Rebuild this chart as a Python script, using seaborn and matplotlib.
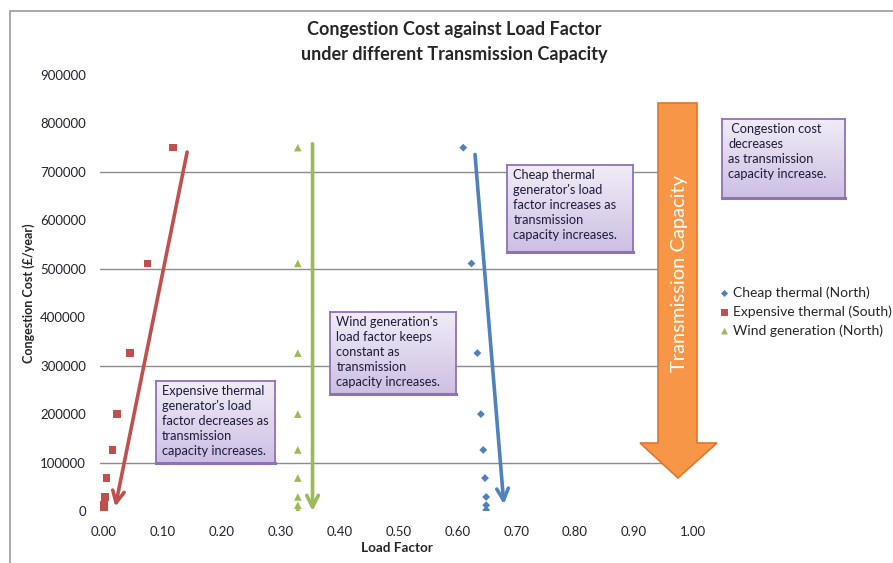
import numpy as np
import pandas as pd
import matplotlib.pyplot as plt
import seaborn as sns
from matplotlib.patches import Polygon, Rectangle
from matplotlib.colors import LinearSegmentedColormap

# Data
cost = [750000, 511000, 326000, 200000, 126000, 68000, 29000, 12000, 2000]
cheap_lf = [0.610, 0.624, 0.634, 0.640, 0.644, 0.647, 0.649, 0.649, 0.649]
expensive_lf = [0.117, 0.074, 0.044, 0.022, 0.014, 0.004, 0.001, 0.000, 0.000]
wind_lf = [0.329, 0.329, 0.329, 0.329, 0.329, 0.329, 0.329, 0.329, 0.329]

series = ['Cheap thermal (North)', 'Expensive thermal (South)', 'Wind generation (North)']
colors = ['#4F81BD', '#C0504D', '#9BBB59']
markers = ['D', 's', '^']
sizes = [16, 30, 30]

x_ticks = [0.0, 0.1, 0.2, 0.3, 0.4, 0.5, 0.6, 0.7, 0.8, 0.9, 1.0]
y_ticks = [0, 100000, 200000, 300000, 400000, 500000, 600000, 700000, 800000, 900000]
grid_vals = [100000, 300000, 500000, 700000]

df = pd.DataFrame({
    'Load Factor': cheap_lf + expensive_lf + wind_lf,
    'Congestion Cost': cost * 3,
    'Series': [s for s in series for _ in cost],
})

sns.set_theme(style='white')
plt.rcParams['font.family'] = ['Lato', 'DejaVu Sans']

W, H = 893, 563
fig = plt.figure(figsize=(W / 100, H / 100), dpi=100)


def fx(px):
    return px / W


def fy(py):
    return 1 - py / H


# chart area border
fig.patches.append(Rectangle((fx(10), fy(600)), fx(900) - fx(10), fy(11) - fy(600),
                             transform=fig.transFigure, fill=False, edgecolor='#9a9a9a', lw=1.2))

ax = fig.add_axes([fx(100), fy(511), fx(694) - fx(100), fy(75) - fy(511)])

for val in grid_vals:
    ax.axhline(val, color='#8c8c8c', lw=1, zorder=0)

for s, c, m, sz in zip(series, colors, markers, sizes):
    sub = df[df['Series'] == s]
    sns.scatterplot(data=sub, x='Load Factor', y='Congestion Cost', ax=ax, color=c,
                    marker=m, s=sz, edgecolor='none', label=s, zorder=3)

ax.set_xlim(-0.007, 1.002)
ax.set_ylim(0, 900000)
ax.set_xticks(x_ticks)
ax.set_xticklabels([f'{v:.2f}' for v in x_ticks])
ax.set_yticks(y_ticks)
ax.set_yticklabels([str(v) for v in y_ticks])
ax.tick_params(axis='both', labelsize=9.5, colors='#222233', length=0)
ax.tick_params(axis='x', pad=11)
ax.tick_params(axis='y', pad=10)
for sp in ax.spines.values():
    sp.set_visible(False)
ax.set_xlabel('Load Factor', fontsize=9.7, fontweight='bold', labelpad=3)
ax.set_ylabel('Congestion Cost (\u00a3/year)', fontsize=9, fontweight='bold', labelpad=4)

# trend arrows
arrow_specs = [
    ((0.141, 741000), (0.019, 9000), colors[1]),
    ((0.354, 758000), (0.354, 0), colors[2]),
    ((0.630, 736000), (0.679, 14000), colors[0]),
]
for start, end, c in arrow_specs:
    ax.annotate('', xy=end, xytext=start, annotation_clip=False,
                arrowprops=dict(arrowstyle='->,head_length=0.7,head_width=0.35',
                                color=c, lw=2.6, shrinkA=0, shrinkB=0), zorder=4)

fig.suptitle('Congestion Cost against Load Factor\nunder different Transmission Capacity',
             x=fx(454), y=fy(21), fontsize=13, fontweight='bold', va='top', linespacing=1.55)

ax.legend(loc='upper left', bbox_to_anchor=(fx(712), fy(281)), bbox_transform=fig.transFigure,
          frameon=False, fontsize=10, handletextpad=0.1, labelspacing=0.45,
          handlelength=1.0, markerscale=0.9, borderaxespad=0)

# big orange arrow
pts = [(658, 103), (697, 103), (697, 443), (717, 443), (678, 478), (640, 443), (658, 443)]
fig.patches.append(Polygon([(fx(a), fy(b)) for a, b in pts], closed=True, transform=fig.transFigure,
                           facecolor='#F79646', edgecolor='#E0772E', lw=1.2, zorder=5))
fig.text(fx(679), fy(274), 'Transmission Capacity', rotation=90, color='white',
         fontsize=14.5, ha='center', va='center', zorder=6)

# purple note boxes
grad = np.linspace(0, 1, 64).reshape(-1, 1)
box_cmap = LinearSegmentedColormap.from_list('box', ['#F1ECF7', '#CDBFE3'])

notes = [
    ((156, 381, 275, 463), 'Expensive thermal\ngenerator\'s load\nfactor decreases as\ntransmission\ncapacity increases.'),
    ((330, 312, 456, 394), 'Wind generation\'s\nload factor keeps\nconstant as\ntransmission\ncapacity increases.'),
    ((507, 165, 633, 252), 'Cheap thermal\ngenerator\'s load\nfactor increases as\ntransmission\ncapacity increases.'),
    ((722, 119, 845, 198), ' Congestion cost\ndecreases\nas transmission\ncapacity increase.'),
]
for (l, t, r, b), txt in notes:
    bax = fig.add_axes([fx(l), fy(b), fx(r) - fx(l), fy(t) - fy(b)], zorder=7)
    bax.imshow(grad, aspect='auto', cmap=box_cmap, extent=[0, 1, 0, 1])
    bax.set_xticks([])
    bax.set_yticks([])
    for sp in bax.spines.values():
        sp.set_color('#8D72B8')
        sp.set_linewidth(1.3)
    bax.spines['bottom'].set_linewidth(2.2)
    bax.text(0.05, 0.95, txt, transform=bax.transAxes, ha='left', va='top',
             fontsize=9.2, color='#1F1A3A', linespacing=1.3)

plt.savefig('out.png', dpi=100)
